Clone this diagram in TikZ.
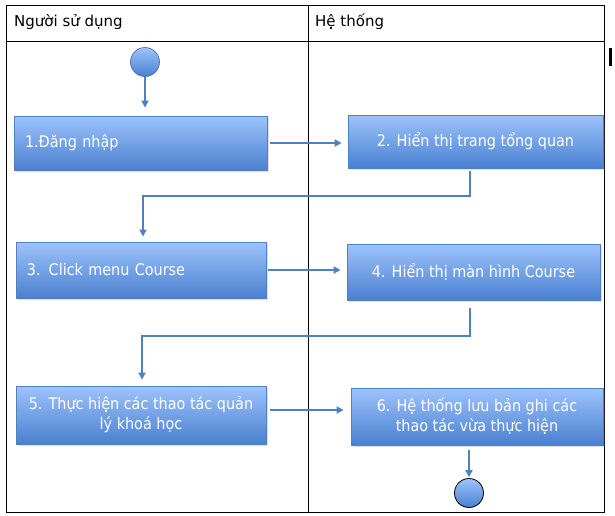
\documentclass[tikz,border=0pt]{standalone}
\usepackage{fontspec}
\setmainfont{DejaVu Sans}
\newfontfamily\boxfont{DejaVu Sans Condensed}
\usetikzlibrary{arrows.meta,shadows,calc}
\definecolor{flowblue}{HTML}{4F81BD}
\definecolor{boxtop}{HTML}{9DC3FB}
\definecolor{boxbot}{HTML}{4A80D0}
\tikzset{
  actbox/.style={draw=flowblue, line width=0.8pt, top color=boxtop, bottom color=boxbot,
     text=white, font=\boxfont\fontsize{16}{20}\selectfont, inner sep=0pt,
     drop shadow={opacity=0.25, shadow xshift=1.5pt, shadow yshift=-2pt}},
  dot/.style={circle, minimum size=29pt, inner sep=0pt, top color=boxtop, bottom color=boxbot},
  flow/.style={draw=flowblue, line width=2.6pt, -{Triangle[length=7pt,width=7pt]}},
  lane/.style={draw=black, line width=0.8pt},
  head/.style={font=\fontsize{15}{18}\selectfont, anchor=west, inner sep=0pt}
}
\begin{document}
\begin{tikzpicture}[x=1pt,y=-1pt]
\useasboundingbox (0,0) rectangle (615,515);
% lanes
\draw[lane] (6,5) rectangle (604,512);
\draw[lane] (6,41) -- (604,41);
\draw[lane] (308,5) -- (308,512);
\fill (609,48) rectangle (611.5,66);
\node[head] (h1) at (14,22) {Người sử dụng};
\node[head] (h2) at (315,22) {Hệ thống};
% nodes
\node[dot, draw=flowblue!80!black, line width=0.6pt] (start) at (145,62) {};
\node[actbox, minimum width=253pt, minimum height=54pt, text width=231pt, align=left] (b1) at (140.5,143) {1.Đăng nhập};
\node[actbox, minimum width=255pt, minimum height=53pt, align=center] (b2) at (475.5,141.5) {2. Hiển thị trang tổng quan};
\node[actbox, minimum width=250pt, minimum height=56pt, text width=228pt, align=left] (b3) at (141,270) {3. Click menu Course};
\node[actbox, minimum width=253pt, minimum height=56pt, align=center] (b4) at (473.5,272) {4. Hiển thị màn hình Course};
\node[actbox, minimum width=250pt, minimum height=58pt, align=center] (b5) at (141,415) {5. Thực hiện các thao tác quản\\lý khoá học};
\node[actbox, minimum width=252pt, minimum height=57pt, align=center] (b6) at (477,416.5) {6. Hệ thống lưu bản ghi các\\thao tác vừa thực hiện};
\node[dot, draw=black, line width=0.8pt] (end) at (469,493) {};
% connectors
\draw[flow, shorten >=8pt] (start) -- (start |- b1.north);
\draw[flow, shorten <=3pt, shorten >=6pt] (b1.east) -- (b1.east -| b2.west);
\coordinate (k1) at (143,196);
\draw[flow, shorten >=5pt] ([xshift=-5.5pt,yshift=-3pt]b2.south) |- (k1) -- (k1 |- b3.north);
\draw[flow, shorten <=2pt, shorten >=6pt] (b3.east) -- (b3.east -| b4.west);
\coordinate (k2) at (142,336);
\draw[flow, shorten >=6pt] ([xshift=-3.5pt,yshift=-8pt]b4.south) |- (k2) -- (k2 |- b5.north);
\draw[flow, shorten <=4pt, shorten >=7pt] ([yshift=5pt]b5.east) -- ([yshift=5pt]b5.east -| b6.west);
\draw[flow, shorten >=1pt] ([xshift=-8pt,yshift=-5pt]b6.south) -- ([xshift=-8pt]b6.south |- end.north);
\end{tikzpicture}
\end{document}
